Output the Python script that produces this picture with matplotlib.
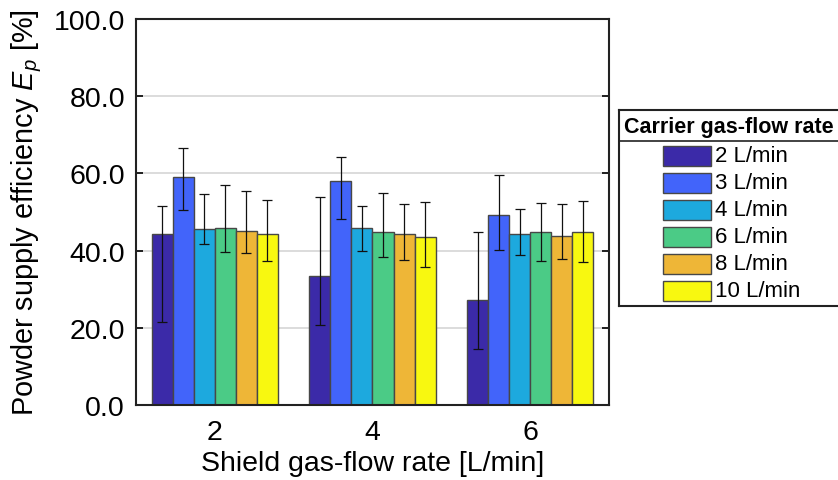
import numpy as np
import matplotlib
matplotlib.use("Agg")
import matplotlib.pyplot as plt
from matplotlib.patches import Rectangle
from matplotlib.ticker import FormatStrFormatter

plt.rcParams["font.family"] = ["Liberation Sans", "DejaVu Sans"]
plt.rcParams["mathtext.fontset"] = "custom"
plt.rcParams["mathtext.rm"] = "Liberation Sans"
plt.rcParams["mathtext.it"] = "Liberation Sans:italic"

# shield gas-flow rate groups [L/min]
shield_rates = ["2", "4", "6"]
# carrier gas-flow rate series
carrier_labels = ["2 L/min", "3 L/min", "4 L/min", "6 L/min", "8 L/min", "10 L/min"]
colors = ["#3B2AA8", "#4264FA", "#1DA9DE", "#4BCB86", "#EEB637", "#F8F810"]

# mean efficiency [%], rows = carrier rate, cols = shield rate
eff_2 = [44.2, 33.4, 27.1]
eff_3 = [59.0, 58.0, 49.3]
eff_4 = [45.5, 45.9, 44.2]
eff_6 = [45.9, 44.7, 44.7]
eff_8 = [45.1, 44.2, 43.8]
eff_10 = [44.3, 43.5, 44.7]

# error bar ends (lower, upper) [%]
low_2, up_2 = [21.6, 20.7, 14.5], [51.5, 53.9, 44.8]
low_3, up_3 = [50.5, 48.3, 40.2], [66.6, 64.2, 59.5]
low_4, up_4 = [41.6, 39.8, 38.9], [54.6, 51.5, 50.9]
low_6, up_6 = [39.7, 38.4, 37.2], [56.9, 54.8, 52.4]
low_8, up_8 = [39.4, 37.6, 37.8], [55.4, 52.0, 52.0]
low_10, up_10 = [37.4, 35.7, 37.1], [53.2, 52.6, 52.9]

means = [eff_2, eff_3, eff_4, eff_6, eff_8, eff_10]
lows = [low_2, low_3, low_4, low_6, low_8, low_10]
ups = [up_2, up_3, up_4, up_6, up_8, up_10]

fig = plt.figure(figsize=(8.38, 4.81), dpi=100)
ax = fig.add_axes([0.1623, 0.1559, 0.5644, 0.8025])

x = np.arange(1, len(shield_rates) + 1)
n = len(means)
width = 0.8 / n

for i in range(n):
    pos = x - 0.4 + width * (i + 0.5)
    m = np.array(means[i])
    lo = m - np.array(lows[i])
    hi = np.array(ups[i]) - m
    ax.bar(pos, m, width, color=colors[i], edgecolor="#474747",
           linewidth=1.0, zorder=2)
    ax.errorbar(pos, m, yerr=[lo, hi], fmt="none", ecolor="#111111",
                elinewidth=0.9, capsize=3.3, capthick=0.9, zorder=3)

ax.set_xlim(0.5, 3.5)
ax.set_ylim(0, 100)
ax.set_xticks(x)
ax.set_xticklabels(shield_rates)
ax.set_yticks(np.arange(0, 101, 20))
ax.yaxis.set_major_formatter(FormatStrFormatter("%.1f"))
ax.yaxis.grid(True, color="#dcdcdc", linewidth=1.4, zorder=0)
ax.set_axisbelow(True)
ax.tick_params(axis="y", direction="in", length=5, width=1.2,
               right=True, labelsize=20.5, pad=8)
ax.tick_params(axis="x", length=0, labelsize=20.5, pad=10)
for s in ax.spines.values():
    s.set_linewidth(1.5)
    s.set_color("#222222")

ax.set_xlabel("Shield gas-flow rate [L/min]", fontsize=20.5, labelpad=4)
ax.set_ylabel("Powder supply efficiency $E_p$ [%]", fontsize=20.8, labelpad=7)

# legend box drawn in pixel units
lax = fig.add_axes([619 / 838, (481 - 307) / 481, 231 / 838, 196 / 481])
lax.set_xlim(0, 231)
lax.set_ylim(196, 0)
lax.set_xticks([])
lax.set_yticks([])
for s in lax.spines.values():
    s.set_linewidth(1.5)
    s.set_color("#222222")
lax.text(5, 17, "Carrier gas-flow rate", fontsize=15.5, fontweight="bold",
         va="center", ha="left")
lax.plot([0, 231], [31, 31], color="#222222", linewidth=1.2)
for i, (lab, c) in enumerate(zip(carrier_labels, colors)):
    yc = 46 + 27 * i
    lax.add_patch(Rectangle((44, yc - 10), 48, 20, facecolor=c,
                            edgecolor="#474747", linewidth=1.0))
    lax.text(96, yc, lab, fontsize=16, va="center", ha="left")

fig.savefig("out.png", dpi=100)
